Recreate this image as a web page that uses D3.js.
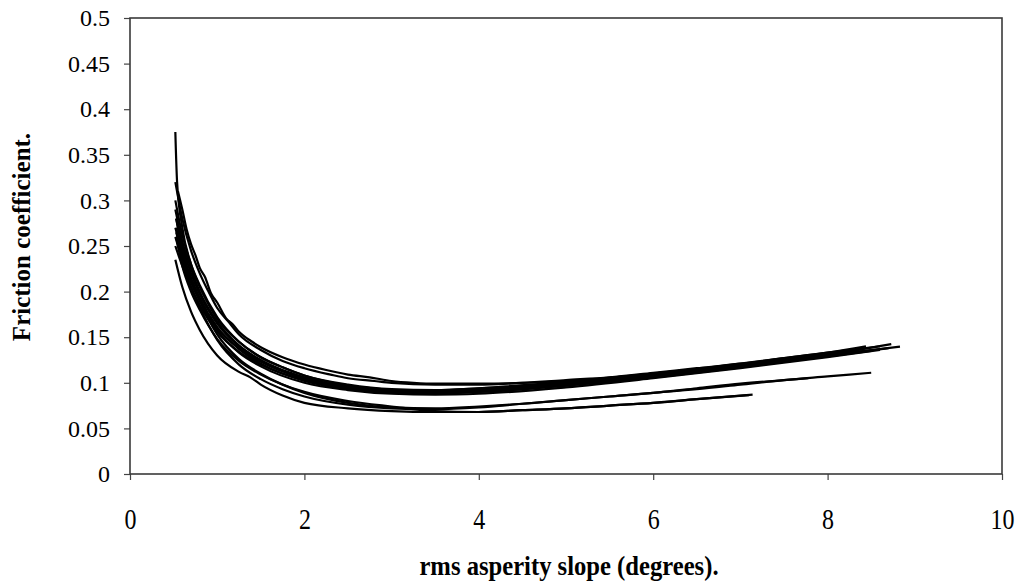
<!doctype html>
<html>
<head>
<meta charset="utf-8">
<title>Friction coefficient vs rms asperity slope</title>
<script src="https://d3js.org/d3.v7.min.js"></script>
<style>
  body { margin: 0; background: #fff; }
  text { font-family: "Liberation Serif", "Times New Roman", serif; fill: #000; }
</style>
</head>
<body>
<div id="chart"></div>
<script>
// tick values
var xTicks = [0, 2, 4, 6, 8, 10];
var yTicks = [0, 0.05, 0.1, 0.15, 0.2, 0.25, 0.3, 0.35, 0.4, 0.45, 0.5];

// the upper bundle of curves, [slope, friction]
var b1 = [[0.52,0.375],[0.54,0.32],[0.6,0.27],[0.7,0.23],[0.8,0.205],[0.9,0.186],[1.0,0.17],[1.25,0.145],[1.5,0.128],[1.75,0.117],[2.0,0.108],[2.5,0.098],[3.0,0.093],[3.5,0.092],[4.0,0.094],[4.5,0.097],[5.0,0.1],[5.5,0.104],[6.0,0.109],[6.5,0.114],[7.0,0.119],[7.5,0.125],[8.0,0.131],[8.73,0.1425]];
var b2 = [[0.55,0.31],[0.6,0.29],[0.65,0.268],[0.7,0.252],[0.75,0.24],[0.8,0.226],[0.86,0.216],[0.93,0.198],[1.0,0.188],[1.1,0.171],[1.18,0.164],[1.25,0.156],[1.4,0.145],[1.5,0.139],[1.75,0.128],[2.0,0.12],[2.25,0.114],[2.5,0.109],[2.75,0.106],[3.0,0.102],[3.25,0.1],[3.5,0.099],[4.0,0.099],[4.5,0.1],[5.0,0.103],[5.5,0.106],[6.0,0.111],[6.5,0.116],[7.0,0.121],[7.5,0.127],[8.0,0.133],[8.44,0.14]];
var b3 = [[0.52,0.32],[0.6,0.28],[0.7,0.245],[0.8,0.22],[0.9,0.2],[1.0,0.182],[1.12,0.168],[1.25,0.153],[1.5,0.136],[1.75,0.124],[2.0,0.116],[2.3,0.109],[2.5,0.105],[2.8,0.102],[3.0,0.1],[3.5,0.098],[4.0,0.098],[4.5,0.1],[5.0,0.102],[6.0,0.11],[7.0,0.121],[8.0,0.133],[8.6,0.14]];
var b4 = [[0.52,0.3],[0.6,0.262],[0.7,0.23],[0.8,0.207],[1.0,0.172],[1.25,0.145],[1.5,0.128],[1.75,0.117],[2.0,0.108],[2.5,0.097],[3.0,0.092],[3.3,0.088],[3.5,0.09],[4.0,0.091],[4.5,0.094],[5.0,0.098],[5.5,0.102],[6.0,0.107],[6.5,0.112],[7.0,0.118],[7.5,0.124],[8.0,0.13],[8.83,0.1396]];
var b5 = [[0.52,0.29],[0.6,0.255],[0.7,0.225],[0.8,0.2],[1.0,0.167],[1.25,0.141],[1.5,0.125],[1.75,0.114],[2.0,0.106],[2.5,0.095],[3.0,0.09],[3.5,0.089],[4.0,0.09],[4.5,0.093],[5.0,0.097],[6.0,0.106],[7.0,0.117],[8.0,0.129],[8.5,0.135]];
var b6 = [[0.53,0.28],[0.6,0.25],[0.7,0.22],[0.8,0.197],[1.0,0.165],[1.25,0.14],[1.5,0.124],[2.0,0.104],[2.5,0.094],[3.0,0.09],[3.5,0.09],[4.0,0.092],[5.0,0.099],[6.0,0.108],[7.0,0.119],[8.0,0.131],[8.3,0.135]];
var b7 = [[0.52,0.27],[0.6,0.243],[0.7,0.215],[0.8,0.193],[1.0,0.161],[1.25,0.137],[1.5,0.121],[2.0,0.102],[2.5,0.093],[3.0,0.089],[3.5,0.088],[4.0,0.09],[5.0,0.097],[6.0,0.107],[7.0,0.118],[8.0,0.13],[8.7,0.138]];
var b8 = [[0.52,0.26],[0.6,0.235],[0.7,0.21],[0.8,0.19],[1.0,0.16],[1.25,0.138],[1.5,0.123],[2.0,0.105],[2.5,0.096],[3.0,0.092],[3.5,0.091],[4.0,0.093],[5.0,0.1],[6.0,0.109],[7.0,0.12],[8.0,0.132],[8.4,0.137]];
var b9 = [[0.52,0.25],[0.6,0.228],[0.7,0.205],[0.8,0.185],[1.0,0.156],[1.25,0.134],[1.5,0.12],[2.0,0.103],[2.5,0.095],[3.0,0.092],[3.5,0.092],[4.0,0.094],[5.0,0.101],[6.0,0.11],[7.0,0.12],[8.0,0.131],[8.2,0.134]];
var b10 = [[0.53,0.265],[0.6,0.24],[0.7,0.212],[0.8,0.19],[1.0,0.158],[1.25,0.133],[1.5,0.118],[2.0,0.1],[2.5,0.092],[3.0,0.088],[3.5,0.087],[4.0,0.088],[5.0,0.095],[6.0,0.105],[7.0,0.116],[8.0,0.128],[8.6,0.136]];

// the lower curves
var l1 = [[0.52,0.235],[0.6,0.205],[0.7,0.178],[0.8,0.158],[1.0,0.13],[1.25,0.112],[1.38,0.106],[1.5,0.098],[1.75,0.086],[2.0,0.078],[2.5,0.072],[3.0,0.069],[3.5,0.068],[4.0,0.068],[4.5,0.07],[5.0,0.072],[5.5,0.075],[6.0,0.078],[6.5,0.082],[7.14,0.087]];
var l2 = [[0.53,0.27],[0.6,0.235],[0.7,0.205],[0.8,0.183],[1.0,0.147],[1.25,0.12],[1.5,0.104],[1.75,0.093],[2.0,0.085],[2.5,0.076],[3.0,0.072],[3.5,0.071],[4.0,0.073],[4.5,0.077],[5.0,0.081],[5.5,0.085],[6.0,0.089],[6.5,0.093],[7.0,0.098],[7.5,0.103],[8.0,0.107],[8.5,0.111]];
var l3 = [[0.53,0.28],[0.6,0.245],[0.7,0.213],[0.8,0.19],[1.0,0.153],[1.25,0.126],[1.5,0.11],[1.75,0.098],[2.0,0.089],[2.5,0.078],[3.0,0.073],[3.5,0.072],[4.0,0.074],[4.5,0.077],[5.0,0.081],[5.5,0.085],[6.0,0.089],[6.5,0.094],[7.0,0.099],[7.5,0.103],[7.78,0.105]];
var l4 = [[0.53,0.26],[0.6,0.228],[0.7,0.2],[0.8,0.18],[1.0,0.148],[1.25,0.124],[1.5,0.109],[2.0,0.09],[2.5,0.08],[3.0,0.074],[3.5,0.069],[4.0,0.068],[4.5,0.07],[5.0,0.072],[5.5,0.075],[6.0,0.078],[6.5,0.082],[7.1,0.0865]];

var curves = [b1, b2, b3, b4, b5, b6, b7, b8, b9, b10, l1, l2, l3, l4];

var serif = "'Liberation Serif', 'Times New Roman', serif";

// dimensions and margins
var margin = {top: 18, right: 16, bottom: 109, left: 130},
    width = 1018 - margin.left - margin.right,
    height = 583 - margin.top - margin.bottom;

var svg = d3.select("#chart")
  .append("svg")
    .attr("width", 1018)
    .attr("height", 583)
  .append("g")
    .attr("transform", "translate(" + margin.left + "," + margin.top + ")");

var x = d3.scaleLinear().domain([0, 10]).range([0, width]);
var y = d3.scaleLinear().domain([0, 0.5]).range([height, 0]);

// y axis
var yAxis = svg.append("g")
  .call(d3.axisLeft(y).tickValues(yTicks).tickSize(6).tickPadding(14)
    .tickFormat(function(d) { return String(+d.toFixed(2)); }));
yAxis.attr("font-family", serif).attr("font-size", null);
yAxis.select(".domain").remove();
yAxis.selectAll("line").attr("stroke", "#444").attr("stroke-width", 1.2);
yAxis.selectAll("text").style("font-family", serif).style("font-size", "24px");

// x axis, labels a bit narrow and tall like the original
var xAxis = svg.append("g")
  .attr("transform", "translate(0," + height + ")")
  .call(d3.axisBottom(x).tickValues(xTicks).tickSize(6).tickPadding(0));
xAxis.attr("font-family", serif).attr("font-size", null);
xAxis.select(".domain").remove();
xAxis.selectAll("line").attr("stroke", "#444").attr("stroke-width", 1.2);
xAxis.selectAll("text")
  .attr("y", 0).attr("dy", null)
  .attr("transform", "translate(0,55) scale(0.8,1)")
  .style("font-family", serif)
  .style("font-size", "30px");

// plot frame
svg.append("rect")
  .attr("x", 0).attr("y", 0)
  .attr("width", width).attr("height", height)
  .attr("fill", "none")
  .attr("stroke", "#3a3a3a")
  .attr("stroke-width", 1.6);

// the curves
var line = d3.line()
  .x(function(d) { return x(d[0]); })
  .y(function(d) { return y(d[1]); })
  .curve(d3.curveMonotoneX);

svg.selectAll(".curve")
  .data(curves)
  .enter()
  .append("path")
    .attr("class", "curve")
    .attr("d", line)
    .attr("fill", "none")
    .attr("stroke", "#000")
    .attr("stroke-width", 2.2);

// axis titles
svg.append("text")
  .attr("text-anchor", "middle")
  .attr("transform", "translate(" + (width / 2 + 3) + "," + (height + 101) + ") scale(0.88,1)")
  .style("font-family", serif)
  .style("font-size", "28px")
  .style("font-weight", "bold")
  .text("rms asperity slope (degrees).");

svg.append("text")
  .attr("text-anchor", "middle")
  .attr("transform", "translate(" + (-100) + "," + (237 - margin.top) + ") rotate(-90)")
  .style("font-family", serif)
  .style("font-size", "25px")
  .style("font-weight", "bold")
  .text("Friction coefficient.");
</script>
</body>
</html>
